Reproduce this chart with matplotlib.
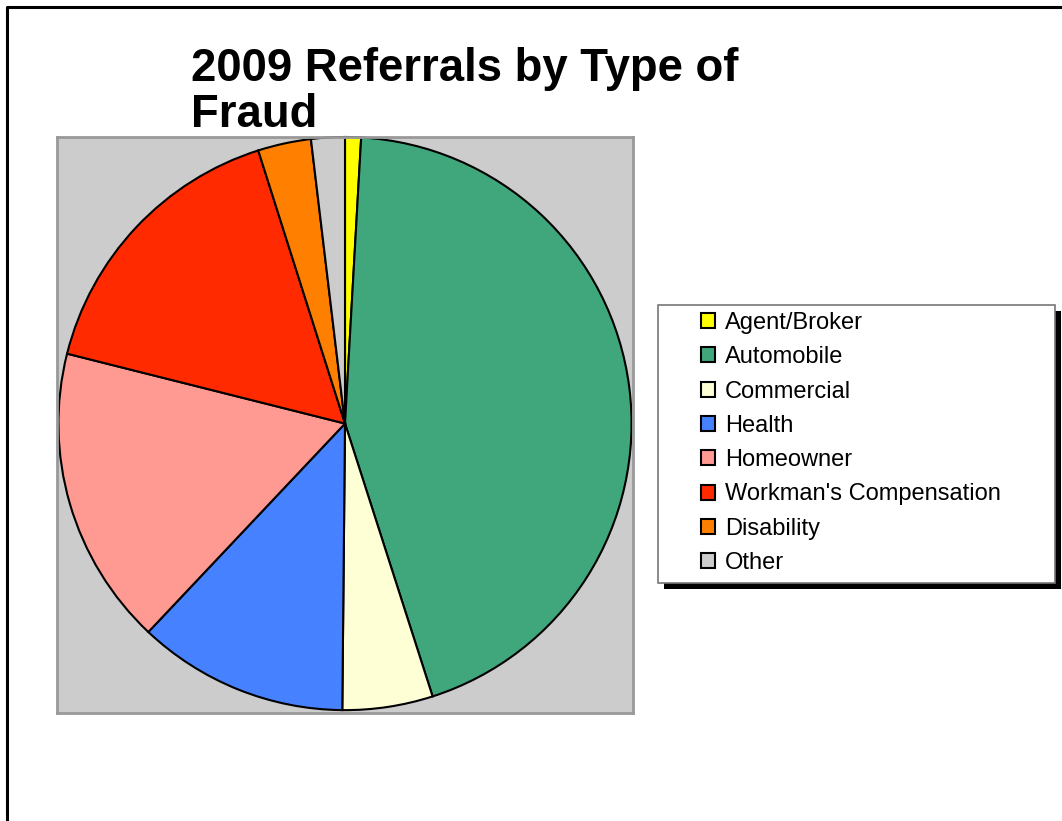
import matplotlib.pyplot as plt
from matplotlib.patches import Rectangle
from matplotlib.lines import Line2D

# datos (porcentajes)
categorias = ["Agent/Broker", "Automobile", "Commercial", "Health",
              "Homeowner", "Workman's Compensation", "Disability", "Other"]
valores = [0.9, 44.2, 5.1, 11.9, 16.9, 16.2, 3.0, 1.9]
colores = ["#FFFF00", "#3FA77B", "#FFFFD5", "#4682FF",
           "#FF9A93", "#FF2A00", "#FF8000", "#CCCCCC"]

W, H = 1062, 821
plt.rcParams['font.family'] = ['Liberation Sans', 'DejaVu Sans']

fig = plt.figure(figsize=(W / 100, H / 100), dpi=100)

def fx(px):
    return px / W

def fy(py):
    return 1 - py / H

# borde de la figura (solo izquierda y arriba)
fig.add_artist(Line2D([fx(7), fx(7), 1], [0, fy(7), fy(7)],
                      color='black', linewidth=2.2, transform=fig.transFigure))

# titulo
fig.text(fx(191), fy(47), "2009 Referrals by Type of\nFraud",
         fontsize=32.8, fontweight='bold', va='top', ha='left', linespacing=1.05)

# area del grafico
ax = fig.add_axes([fx(57), fy(713), fx(633) - fx(57), fy(137) - fy(713)])

cunas, _ = ax.pie(valores, colors=colores, startangle=90, counterclock=False,
                  frame=True,
                  wedgeprops={'edgecolor': 'black', 'linewidth': 1.5})
ax.set_facecolor('#CCCCCC')
for s in ax.spines.values():
    s.set_visible(True)
    s.set_color('#999999')
    s.set_linewidth(2)
ax.set_xlim(-1.005, 1.005)
ax.set_ylim(-1.01, 1.0)
ax.set_aspect('auto')
ax.set_xticks([])
ax.set_yticks([])

# caja de la leyenda con sombra
fig.add_artist(Rectangle((fx(664), fy(589)), fx(1061) - fx(664), fy(311) - fy(589),
                         transform=fig.transFigure, facecolor='black', edgecolor='none'))
fig.add_artist(Rectangle((fx(658), fy(583)), fx(1055) - fx(658), fy(305) - fy(583),
                         transform=fig.transFigure, facecolor='white',
                         edgecolor='#777777', linewidth=1.2))

leg = fig.legend(cunas, categorias, loc='upper left',
                 bbox_to_anchor=(fx(701), fy(312)), frameon=False,
                 fontsize=17, handlelength=0.6, handleheight=0.6,
                 handletextpad=0.42, labelspacing=0.52, borderaxespad=0,
                 borderpad=0)

fig.savefig("out.png", dpi=100)
